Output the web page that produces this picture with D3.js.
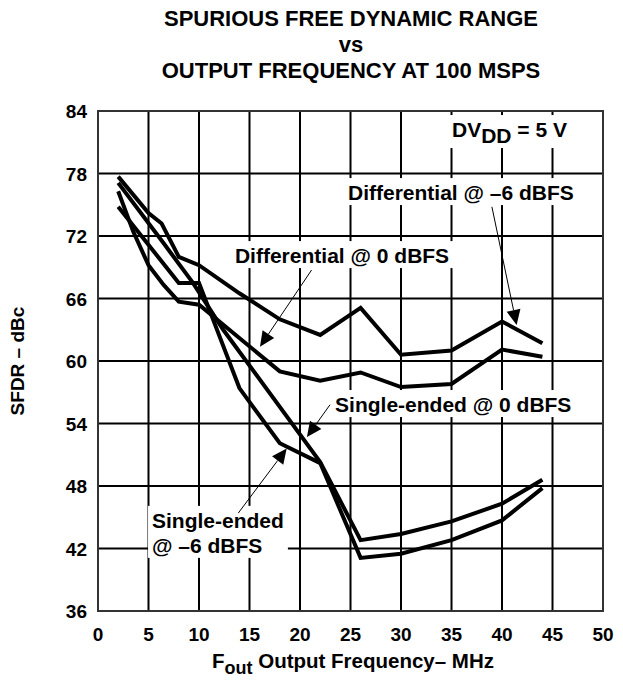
<!DOCTYPE html>
<meta charset="UTF-8">
<style>
  body { margin: 0; background: #fff; }
  text { font-family: "Liberation Sans", Arial, Helvetica, sans-serif; font-weight: bold; fill: #000; }
</style>
<svg width="623" height="683"></svg>
<script src="https://cdn.jsdelivr.net/npm/d3@7"></script>
<script>

// ticks
var xTicks = [0, 5, 10, 15, 20, 25, 30, 35, 40, 45, 50];
var yTicks = [36, 42, 48, 54, 60, 66, 72, 78, 84];

// series (frequency in MHz, SFDR in dBc)
var diffM6Freq = [2, 5, 6.3, 8, 10, 14, 18, 22, 26, 30, 35, 40, 44];
var diffM6Sfdr = [77.7, 74.2, 73.2, 70.0, 69.2, 66.5, 64.0, 62.5, 65.1, 60.6, 61.0, 63.8, 61.7];

var diff0Freq = [2, 3.5, 5, 6.5, 8, 10, 18, 22, 26, 30, 35, 40, 44];
var diff0Sfdr = [76.3, 72.4, 69.2, 67.3, 65.7, 65.4, 59.0, 58.1, 58.9, 57.5, 57.8, 61.1, 60.4];

var se0Freq = [2, 6.5, 9.4, 12.4, 22, 26, 30, 35, 40, 44];
var se0Sfdr = [77.1, 71.3, 67.5, 63.0, 50.3, 42.8, 43.4, 44.6, 46.3, 48.6];

var seM6Freq = [2, 8, 10, 14, 18, 22, 26, 30, 35, 40, 44];
var seM6Sfdr = [74.8, 67.5, 67.5, 57.4, 52.1, 50.2, 41.1, 41.5, 42.8, 44.7, 47.8];

var series = [
  [diffM6Freq, diffM6Sfdr],
  [diff0Freq, diff0Sfdr],
  [se0Freq, se0Sfdr],
  [seM6Freq, seM6Sfdr]
];

var svg = d3.select("svg");
var plotL = 98, plotT = 111, plotR = 603, plotB = 611;

var x = d3.scaleLinear().domain([0, 50]).range([plotL, plotR]);
var y = d3.scaleLinear().domain([36, 84]).range([plotB, plotT]);

// title
var title = ["SPURIOUS FREE DYNAMIC RANGE", "vs", "OUTPUT FREQUENCY AT 100 MSPS"];
svg.selectAll(".title").data(title).enter().append("text")
    .attr("x", 351)
    .attr("y", function(d, i) { return 26 + i * 26; })
    .attr("text-anchor", "middle")
    .style("font-size", "22px")
    .text(function(d) { return d; });

// grid
var grid = svg.append("g");
grid.selectAll(".gx").data(xTicks.slice(1, -1)).enter().append("line")
    .attr("x1", x).attr("x2", x)
    .attr("y1", plotT).attr("y2", plotB)
    .attr("stroke", "#000").attr("stroke-width", 2);
grid.selectAll(".gy").data(yTicks.slice(1, -1)).enter().append("line")
    .attr("x1", plotL).attr("x2", plotR)
    .attr("y1", y).attr("y2", y)
    .attr("stroke", "#000").attr("stroke-width", 2);

// tick labels
svg.selectAll(".xt").data(xTicks).enter().append("text")
    .attr("x", x).attr("y", 641)
    .attr("text-anchor", "middle")
    .style("font-size", "19px")
    .text(function(d) { return d; });
svg.selectAll(".yt").data(yTicks).enter().append("text")
    .attr("x", 87).attr("y", function(d) { return y(d) + 7; })
    .attr("text-anchor", "end")
    .style("font-size", "19px")
    .text(function(d) { return d; });

// axis titles
var xt = svg.append("text").attr("x", 353).attr("y", 668)
    .attr("text-anchor", "middle").style("font-size", "20.5px");
xt.append("tspan").text("F");
xt.append("tspan").attr("dy", 6).style("font-size", "18px").text("out");
xt.append("tspan").attr("dy", -6).text(" Output Frequency\u2013 MHz");

svg.append("text")
    .attr("transform", "translate(24," + ((plotT + plotB) / 2) + ") rotate(-90)")
    .attr("text-anchor", "middle")
    .style("font-size", "19px")
    .text("SFDR \u2013 dBc");

// annotations (positions in data units)
var labelLayer = svg.append("g");
function label(lines, f, v, lead) {
  var g = labelLayer.append("g");
  var t = g.append("text").style("font-size", "21px");
  lines.forEach(function(s, i) {
    t.append("tspan").attr("x", x(f)).attr("y", y(v) + i * lead).text(s);
  });
  var b = t.node().getBBox();
  g.insert("rect", "text")
      .attr("x", b.x - 4).attr("y", b.y - 3)
      .attr("width", b.width + 8).attr("height", b.height + 4)
      .attr("fill", "#fff");
  return t;
}
label(["Differential @ 0 dBFS"], 13.56, 69.4, 0);
label(["Differential @ \u20136 dBFS"], 24.75, 75.45, 0);
label(["Single-ended @ 0 dBFS"], 23.47, 55.1, 0);
label(["Single-ended", "@ \u20136 dBFS"], 5.35, 43.98, 25);

var dv = label([""], 35.05, 81.5, 0);
dv.select("tspan").text("DV");
dv.append("tspan").attr("dy", 6).text("DD");
dv.append("tspan").attr("dy", -6).text(" = 5 V");
var bb = dv.node().getBBox();
d3.select(dv.node().parentNode).select("rect")
    .attr("x", bb.x - 4).attr("y", bb.y - 3)
    .attr("width", bb.width + 8).attr("height", bb.height + 4);

// curves
var line = d3.line()
    .x(function(d) { return x(d[0]); })
    .y(function(d) { return y(d[1]); });
svg.selectAll(".curve").data(series).enter().append("path")
    .attr("d", function(s) { return line(d3.zip(s[0], s[1])); })
    .attr("fill", "none")
    .attr("stroke", "#000")
    .attr("stroke-width", 4)
    .attr("stroke-linejoin", "miter");

// arrows: [from f, from v, tip f, tip v]
var arrows = [
  [21.15, 68.74, 16.04, 61.38],
  [39.0, 74.8, 41.45, 63.46],
  [22.97, 55.8, 20.69, 52.7],
  [13.89, 45.4, 18.68, 51.6]
];
arrows.forEach(function(a) {
  var x0 = x(a[0]), y0 = y(a[1]), x1 = x(a[2]), y1 = y(a[3]);
  var ang = Math.atan2(y1 - y0, x1 - x0), len = 15, half = 7;
  var bx = x1 - len * Math.cos(ang), by = y1 - len * Math.sin(ang);
  svg.append("line")
      .attr("x1", x0).attr("y1", y0).attr("x2", bx).attr("y2", by)
      .attr("stroke", "#000").attr("stroke-width", 1);
  svg.append("path")
      .attr("d", "M" + x1 + "," + y1 +
        "L" + (bx + half * Math.sin(ang)) + "," + (by - half * Math.cos(ang)) +
        "L" + (bx - half * Math.sin(ang)) + "," + (by + half * Math.cos(ang)) + "Z")
      .attr("fill", "#000");
});

// frame
svg.append("rect")
    .attr("x", plotL).attr("y", plotT)
    .attr("width", plotR - plotL).attr("height", plotB - plotT)
    .attr("fill", "none").attr("stroke", "#333").attr("stroke-width", 2);

</script>
